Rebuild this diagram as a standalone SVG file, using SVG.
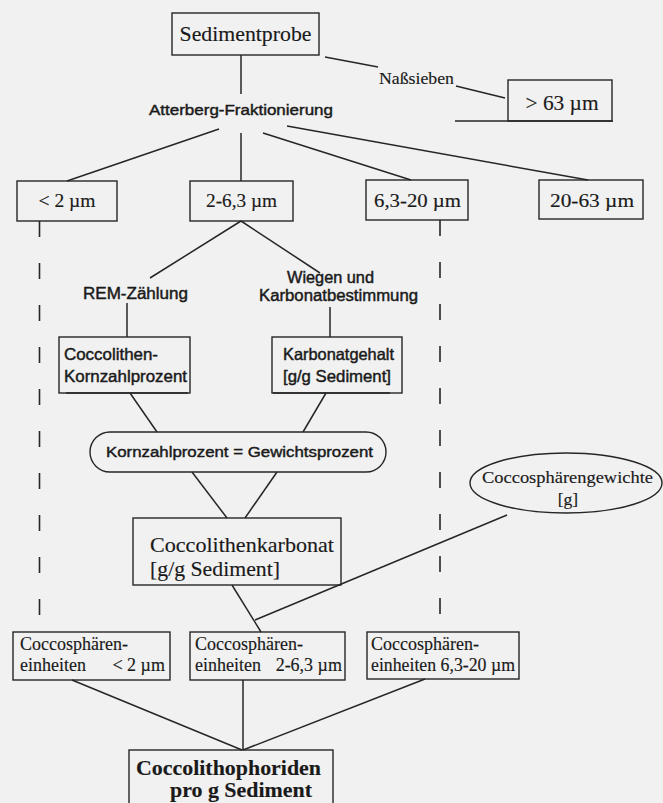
<svg xmlns="http://www.w3.org/2000/svg" width="663" height="803" viewBox="0 0 663 803">
<style>
.bx{fill:none;stroke:#262626;stroke-width:1.4}
.ln{stroke:#262626;stroke-width:1.5;fill:none}
.dash{stroke:#262626;stroke-width:1.6;fill:none;stroke-dasharray:16 26}
.sf{font-family:"Liberation Serif","Times New Roman",serif;fill:#1a1a1a;stroke:#1a1a1a;stroke-width:0.15}
.ss{font-family:"Liberation Sans",Arial,sans-serif;fill:#1a1a1a;stroke:#1a1a1a;stroke-width:0.45}
.c{text-anchor:middle}
</style>
<rect x="0" y="0" width="663" height="803" fill="#f1f1f1"/>
<g id="connectors">
<line class="ln" x1="241" y1="55" x2="241" y2="94"/>
<line class="ln" x1="325" y1="57" x2="378" y2="67"/>
<line class="ln" x1="456" y1="86" x2="505" y2="98"/>
<line class="ln" x1="455" y1="121" x2="613" y2="121"/>
<line class="ln" x1="219" y1="129" x2="67" y2="181"/>
<line class="ln" x1="241" y1="133" x2="241" y2="181"/>
<line class="ln" x1="263" y1="133" x2="411" y2="180"/>
<line class="ln" x1="287" y1="126" x2="588" y2="180"/>
<line class="ln" x1="241" y1="221" x2="150" y2="278"/>
<line class="ln" x1="241" y1="221" x2="320" y2="273"/>
<line class="ln" x1="127" y1="303" x2="127" y2="337"/>
<line class="ln" x1="330" y1="307" x2="330" y2="337"/>
<line class="dash" x1="39.5" y1="221" x2="39.5" y2="632"/>
<line class="dash" x1="440" y1="220" x2="440" y2="632"/>
<line class="ln" x1="130" y1="393" x2="157" y2="432"/>
<line class="ln" x1="326" y1="393" x2="303" y2="432"/>
<line class="ln" x1="192" y1="472" x2="227" y2="518"/>
<line class="ln" x1="277" y1="472" x2="245" y2="518"/>
<line class="ln" x1="232" y1="585" x2="261" y2="632"/>
<line class="ln" x1="507" y1="515" x2="255" y2="620"/>
<line class="ln" x1="72" y1="680" x2="242" y2="750"/>
<line class="ln" x1="243" y1="680" x2="243" y2="750"/>
<line class="ln" x1="425" y1="679" x2="243" y2="750"/>
</g>
<g id="sedimentprobe">
<rect class="bx" x="172" y="13" width="147" height="42"/>
<text class="sf c" x="245.5" y="41" font-size="21" textLength="132" lengthAdjust="spacingAndGlyphs">Sedimentprobe</text>
</g>
<g id="atterberg">
<text class="ss c" x="241" y="115" font-size="15.5" textLength="184" lengthAdjust="spacingAndGlyphs">Atterberg-Fraktionierung</text>
</g>
<g id="nasssieben">
<text class="sf c" x="416.5" y="84" font-size="17" textLength="75" lengthAdjust="spacingAndGlyphs">Naßsieben</text>
</g>
<g id="gt63">
<rect class="bx" x="508" y="80" width="104" height="41"/>
<text class="sf c" x="562" y="110" font-size="20" textLength="73" lengthAdjust="spacingAndGlyphs">&gt; 63 µm</text>
</g>
<g id="lt2">
<rect class="bx" x="17" y="181" width="100" height="40"/>
<text class="sf c" x="67" y="207" font-size="19" textLength="57" lengthAdjust="spacingAndGlyphs">&lt; 2 µm</text>
</g>
<g id="f2-63">
<rect class="bx" x="190" y="181" width="103" height="40"/>
<text class="sf c" x="241.5" y="207" font-size="19" textLength="71" lengthAdjust="spacingAndGlyphs">2-6,3 µm</text>
</g>
<g id="f63-20">
<rect class="bx" x="366" y="180" width="102" height="40"/>
<text class="sf c" x="417.5" y="207" font-size="19" textLength="87" lengthAdjust="spacingAndGlyphs">6,3-20 µm</text>
</g>
<g id="f20-63">
<rect class="bx" x="539" y="180" width="104" height="39"/>
<text class="sf c" x="592" y="207" font-size="19" textLength="84" lengthAdjust="spacingAndGlyphs">20-63 µm</text>
</g>
<g id="rem">
<text class="ss c" x="135.5" y="299" font-size="16" textLength="105" lengthAdjust="spacingAndGlyphs">REM-Zählung</text>
</g>
<g id="wiegen">
<text class="ss c" x="330.5" y="283" font-size="16" textLength="87" lengthAdjust="spacingAndGlyphs">Wiegen und</text>
<text class="ss c" x="338.5" y="301" font-size="16" textLength="159" lengthAdjust="spacingAndGlyphs">Karbonatbestimmung</text>
</g>
<g id="kornzahl">
<rect class="bx" x="59" y="337" width="131" height="56"/>
<line class="ln" x1="66" y1="393" x2="188" y2="393" stroke-width="3"/>
<text class="ss" x="64" y="360" font-size="16.5" textLength="94" lengthAdjust="spacingAndGlyphs">Coccolithen-</text>
<text class="ss" x="64" y="382" font-size="16.5" textLength="123" lengthAdjust="spacingAndGlyphs">Kornzahlprozent</text>
</g>
<g id="karbonatgehalt">
<rect class="bx" x="272" y="337" width="130" height="56"/>
<line class="ln" x1="273" y1="393" x2="390" y2="393" stroke-width="3"/>
<text class="ss" x="283" y="360" font-size="16.5" textLength="111" lengthAdjust="spacingAndGlyphs">Karbonatgehalt</text>
<text class="ss" x="283" y="382" font-size="16.5" textLength="108" lengthAdjust="spacingAndGlyphs">[g/g Sediment]</text>
</g>
<g id="gleich">
<rect class="bx" x="90" y="432" width="296" height="40" rx="20" ry="20"/>
<text class="ss c" x="239.5" y="457" font-size="15.5" textLength="267" lengthAdjust="spacingAndGlyphs">Kornzahlprozent = Gewichtsprozent</text>
</g>
<g id="gewichte">
<ellipse class="bx" cx="566" cy="483" rx="96" ry="30"/>
<text class="sf c" x="567.5" y="483" font-size="17.5" textLength="171" lengthAdjust="spacingAndGlyphs">Coccosphärengewichte</text>
<text class="sf c" x="568" y="505" font-size="17.5">[g]</text>
</g>
<g id="karbonat">
<rect class="bx" x="133" y="518" width="208" height="67"/>
<text class="sf" x="150" y="552" font-size="21" textLength="184" lengthAdjust="spacingAndGlyphs">Coccolithenkarbonat</text>
<text class="sf" x="150" y="576" font-size="21" textLength="130" lengthAdjust="spacingAndGlyphs">[g/g Sediment]</text>
</g>
<g id="ce1">
<rect class="bx" x="13" y="632" width="157" height="48"/>
<text class="sf" x="20" y="650" font-size="18" textLength="108" lengthAdjust="spacingAndGlyphs">Coccosphären-</text>
<text class="sf" x="20" y="671" font-size="18">einheiten</text>
<text class="sf" x="165" y="671" font-size="18" text-anchor="end">&lt; 2 µm</text>
</g>
<g id="ce2">
<rect class="bx" x="190" y="632" width="155" height="48"/>
<text class="sf" x="195" y="650" font-size="18" textLength="108" lengthAdjust="spacingAndGlyphs">Coccosphären-</text>
<text class="sf" x="195" y="671" font-size="18">einheiten</text>
<text class="sf" x="342" y="671" font-size="18" text-anchor="end">2-6,3 µm</text>
</g>
<g id="ce3">
<rect class="bx" x="367" y="632" width="152" height="47"/>
<text class="sf" x="371" y="650" font-size="18" textLength="108" lengthAdjust="spacingAndGlyphs">Coccosphären-</text>
<text class="sf" x="371" y="671" font-size="18" textLength="144" lengthAdjust="spacingAndGlyphs">einheiten 6,3-20 µm</text>
</g>
<g id="final">
<rect class="bx" x="129" y="750" width="204" height="70"/>
<text class="sf c" x="228.5" y="775" font-size="21" font-weight="bold" textLength="185" lengthAdjust="spacingAndGlyphs">Coccolithophoriden</text>
<text class="sf c" x="241" y="797" font-size="21" font-weight="bold" textLength="142" lengthAdjust="spacingAndGlyphs">pro g Sediment</text>
</g>
</svg>
